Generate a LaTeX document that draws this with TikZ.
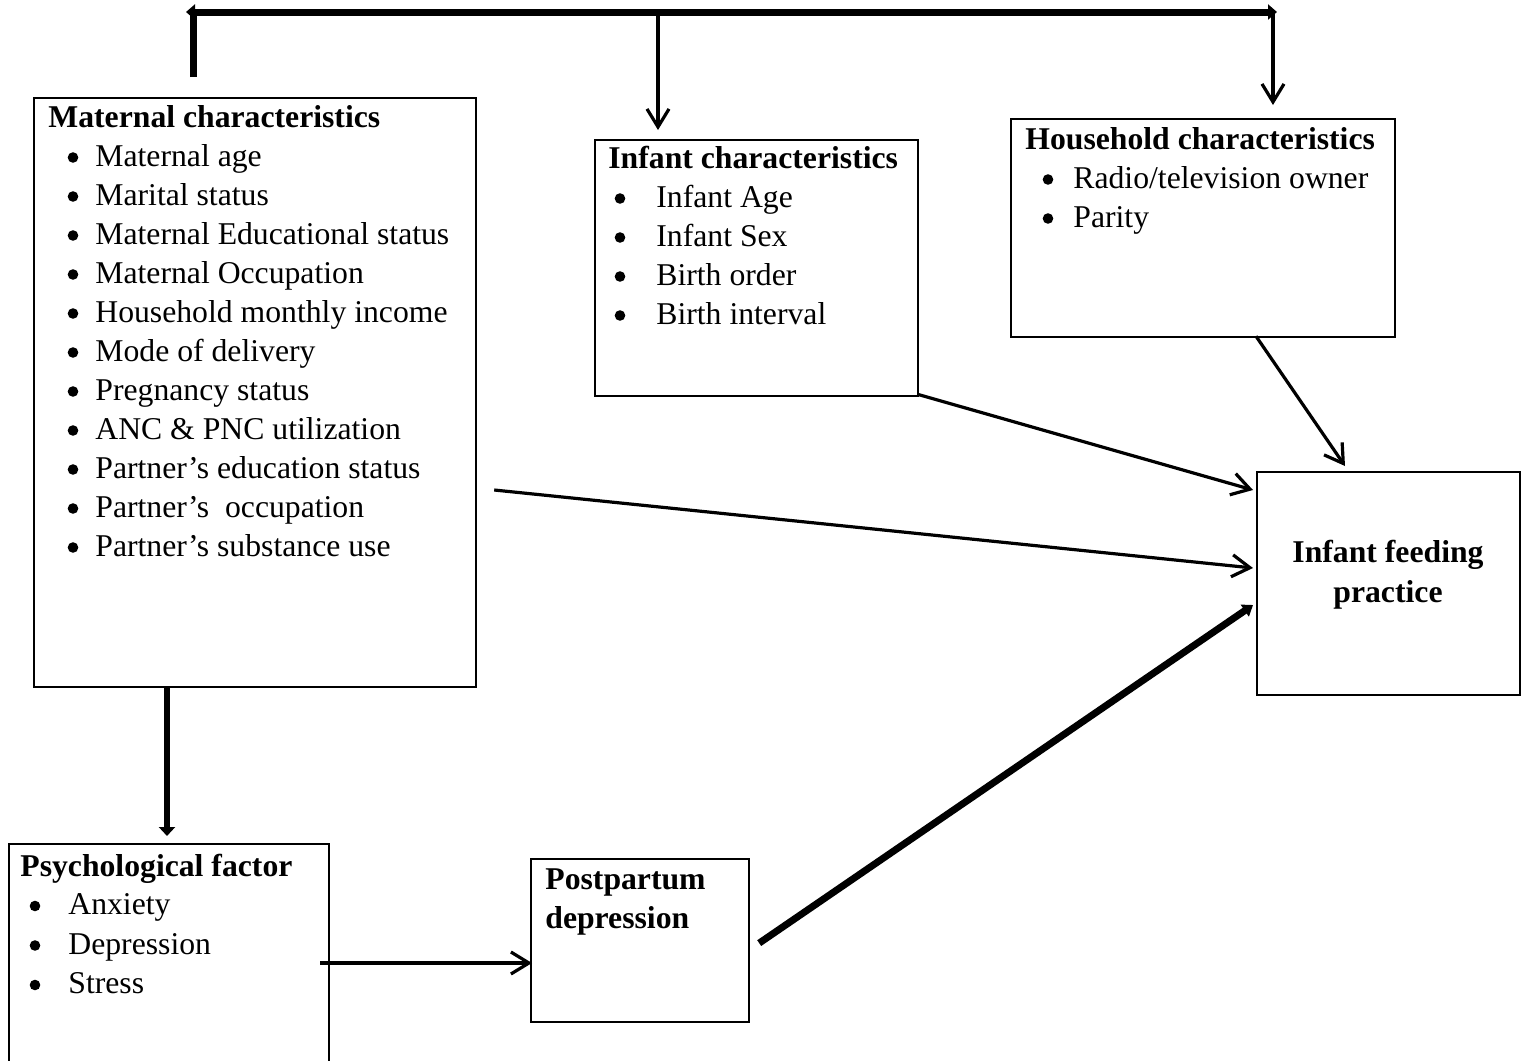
\documentclass[tikz,border=0pt]{standalone}
\usepackage{fontspec}
\setmainfont{Liberation Serif}
\usetikzlibrary{arrows.meta,calc}
\begin{document}
\begin{tikzpicture}[x=0.5pt,y=-0.5pt,
  box/.style={draw,line width=1.1pt,rectangle,inner sep=0pt,anchor=north west},
  txt/.style={anchor=base west,inner sep=0pt,font=\fontsize{15.85pt}{19.5pt}\selectfont},
  ttl/.style={txt,font=\fontsize{15.85pt}{19.5pt}\selectfont\bfseries},
  bul/.style={circle,fill=black,inner sep=0pt,minimum size=5.3pt},
  thinarr/.style={line width=1.6pt,-{Straight Barb[length=9pt,width=11pt,line width=1.6pt]}},
  thickarr/.style={line width=3.5pt,-{Triangle[length=5pt,width=8pt]}}
]
\useasboundingbox (0,0) rectangle (1523,1061);

% boxes
\node[box,minimum width=221pt,minimum height=294.5pt] (m) at (33,97) {};
\node[box,minimum width=161.5pt,minimum height=128pt] (i) at (594,139) {};
\node[box,minimum width=192pt,minimum height=109pt] (h) at (1010,118) {};
\node[box,minimum width=131.5pt,minimum height=111.5pt] (f) at (1256,471) {};
\node[box,minimum width=160pt,minimum height=113pt] (s) at (8,843) {};
\node[box,minimum width=109pt,minimum height=81.5pt] (p) at (530,858) {};

% maternal text
\node[ttl] (mt) at (48,127) {Maternal characteristics};
\foreach \t [count=\k] in {Maternal age,Marital status,Maternal Educational status,Maternal Occupation,Household monthly income,Mode of delivery,Pregnancy status,ANC \& PNC utilization,Partner’s education status,Partner’s\ \ occupation,Partner’s substance use}{
  \node[txt] (m\k) at (95,{127+39*\k}) {\t};
  \node[bul] (mb\k) at (73,{127+39*\k-8.5}) {};
}

% infant text
\node[ttl] (it) at (608,168) {Infant characteristics};
\foreach \t [count=\k] in {Infant Age,Infant Sex,Birth order,Birth interval}{
  \node[txt] (i\k) at (656,{168+39*\k}) {\t};
  \node[bul] (ib\k) at (620,{168+39*\k-8.5}) {};
}

% household text
\node[ttl] (ht) at (1025,149) {Household characteristics};
\foreach \t [count=\k] in {Radio/television owner,Parity}{
  \node[txt] (h\k) at (1073,{149+39*\k}) {\t};
  \node[bul] (hb\k) at (1048,{149+39*\k-8.5}) {};
}

% psychological text
\node[ttl] (st) at (20,876) {Psychological factor};
\foreach \t [count=\k] in {Anxiety,Depression,Stress}{
  \node[txt] (s\k) at (68,{875+39.5*\k}) {\t};
  \node[bul] (sb\k) at (35,{875+39.5*\k-8.5}) {};
}

% postpartum text
\node[ttl] (pt1) at (545,889) {Postpartum};
\node[ttl] (pt2) at (545,928) {depression};

% infant feeding text
\node[ttl,anchor=base] (ft1) at (1388,562) {Infant feeding};
\node[ttl,anchor=base] (ft2) at (1388,602) {practice};

% top connector
\coordinate (tl) at (186,12);
\coordinate (tr) at (1277,12);
\coordinate (tv) at (193,12);
\draw[line width=3.5pt] ($(m.north west)+(160,-20)$) -- ($(tv)+(0,-3.5)$);
\draw[line width=3.5pt,{Triangle[length=4.5pt,width=7.5pt]}-{Triangle[length=4.5pt,width=7.5pt]}] (tl) -- (tr);
\coordinate (tm) at (658,14);
\coordinate (tr2) at (1273,14);
\draw[thinarr] (tm) -- ($(i.north -| tm)+(0,-9)$);
\draw[thinarr] (tr2) -- ($(h.north -| tr2)+(0,-13)$);

% arrows to infant feeding practice
\draw[thinarr] ($(i.south east)+(-2,-3)$) -- ($(f.north west)+(-3,19)$);
\draw[thinarr] ($(h.south west)+(246,-2)$) -- ($(f.north west)+(89,-5)$);
\draw[thinarr] ($(m.north east)+(17,393)$) -- ($(f.north west)+(-3,97)$);
\draw[line width=3.5pt,-{Triangle[length=5pt,width=7pt]}] ($(p.east)+(9,2.5)$) -- ($(f.north west)+(-3,134)$);

% maternal to psychological
\draw[line width=3pt,-{Triangle[length=4.5pt,width=8pt]}] ($(m.south west)+(134,0)$) -- ($(s.north west)+(159,-7)$);
% psychological to postpartum
\draw[thinarr] ($(s.north east)+(-10,120)$) -- ($(p.north west)+(2,105)$);
\end{tikzpicture}
\end{document}
